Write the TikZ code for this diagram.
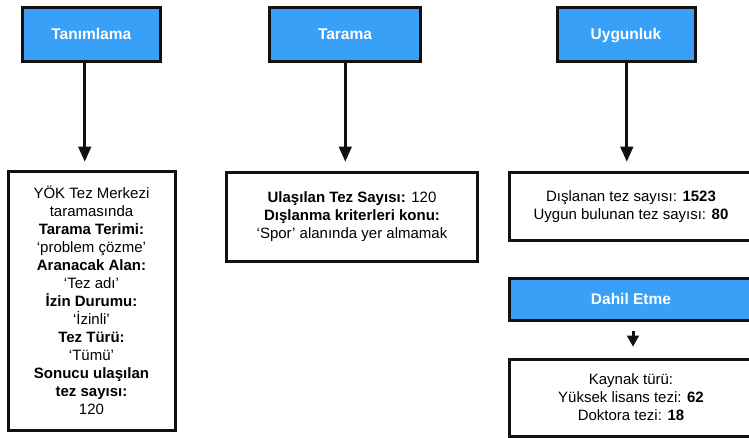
\documentclass[tikz,border=0pt]{standalone}
\usepackage{fontspec}
\setmainfont{Liberation Sans}
\usetikzlibrary{arrows.meta}

\definecolor{headblue}{RGB}{56,160,246}
\definecolor{edge}{RGB}{17,17,17}

\tikzset{
  headbox/.style={draw=edge, line width=3pt, fill=headblue, text=white,
    inner sep=0pt, minimum height=54pt, text height=11.1pt, text depth=0pt,
    font=\fontsize{15.5}{18}\selectfont\bfseries},
  infobox/.style={draw=edge, line width=3pt, fill=white, inner sep=0pt,
    align=center, font=\fontsize{15}{18}\selectfont},
  arr/.style={draw=edge, line width=3pt,
    -{Triangle[length=15pt,width=13.5pt,line width=0pt]}},
  smallarr/.style={draw=edge, line width=3pt,
    -{Triangle[length=11pt,width=12.5pt,line width=0pt]}}
}

\begin{document}
\begin{tikzpicture}[x=1pt,y=-1pt]
  \useasboundingbox (0,0) rectangle (749,437);
  \clip (0,0) rectangle (749,437);

  % column headers
  \node[headbox, minimum width=137.5pt] (tan) at (91.25,34) {Tanımlama};
  \node[headbox, minimum width=151pt]   (tar) at (345,34)   {Tarama};
  \node[headbox, minimum width=138pt]   (uyg) at (626,34)   {Uygunluk};

  % detail boxes
  \node[infobox, minimum width=167pt, minimum height=259pt] (tandet) at (91.5,300.5)
    {YÖK Tez Merkezi\\ taramasında\\ \textbf{Tarama Terimi:}\\ ‘problem çözme’\\
     \textbf{Aranacak Alan:}\\ ‘Tez adı’\\ \textbf{İzin Durumu:}\\ ‘İzinli’\\
     \textbf{Tez Türü:}\\ ‘Tümü’\\ \textbf{Sonucu ulaşılan}\\ \textbf{tez sayısı:}\\ 120};

  \node[infobox, minimum width=251pt, minimum height=88.5pt] (tardet) at (352,216.75)
    {\textbf{Ulaşılan Tez Sayısı:} 120\\ \textbf{Dışlanma kriterleri konu:}\\
     ‘Spor’ alanında yer almamak};

  \node[infobox, minimum width=244pt, minimum height=68pt] (uygdet) at (631,206.5)
    {Dışlanan tez sayısı: \textbf{1523}\\ Uygun bulunan tez sayısı: \textbf{80}};

  \node[headbox, minimum width=244pt, minimum height=41.5pt] (dahil) at (631,299.25)
    {Dahil Etme};

  \node[infobox, minimum width=244pt, minimum height=77pt] (kaynak) at (631,397.5)
    {Kaynak türü:\\ Yüksek lisans tezi: \textbf{62}\\ Doktora tezi: \textbf{18}};

  % connectors
  \draw[arr, shorten >=8pt] ([xshift=-6.5pt]tan.south) -- ([xshift=-6.5pt]tan.south |- tandet.north);
  \draw[arr, shorten >=9.5pt] ([xshift=0.3pt]tar.south) -- ([xshift=0.3pt]tar.south |- tardet.north);
  \draw[arr, shorten >=9.5pt] ([xshift=0.8pt]uyg.south) -- ([xshift=0.8pt]uyg.south |- uygdet.north);
  \draw[smallarr, shorten <=9pt, shorten >=11pt] ([xshift=2pt]dahil.south) -- ([xshift=2pt]dahil.south |- kaynak.north);
\end{tikzpicture}
\end{document}
